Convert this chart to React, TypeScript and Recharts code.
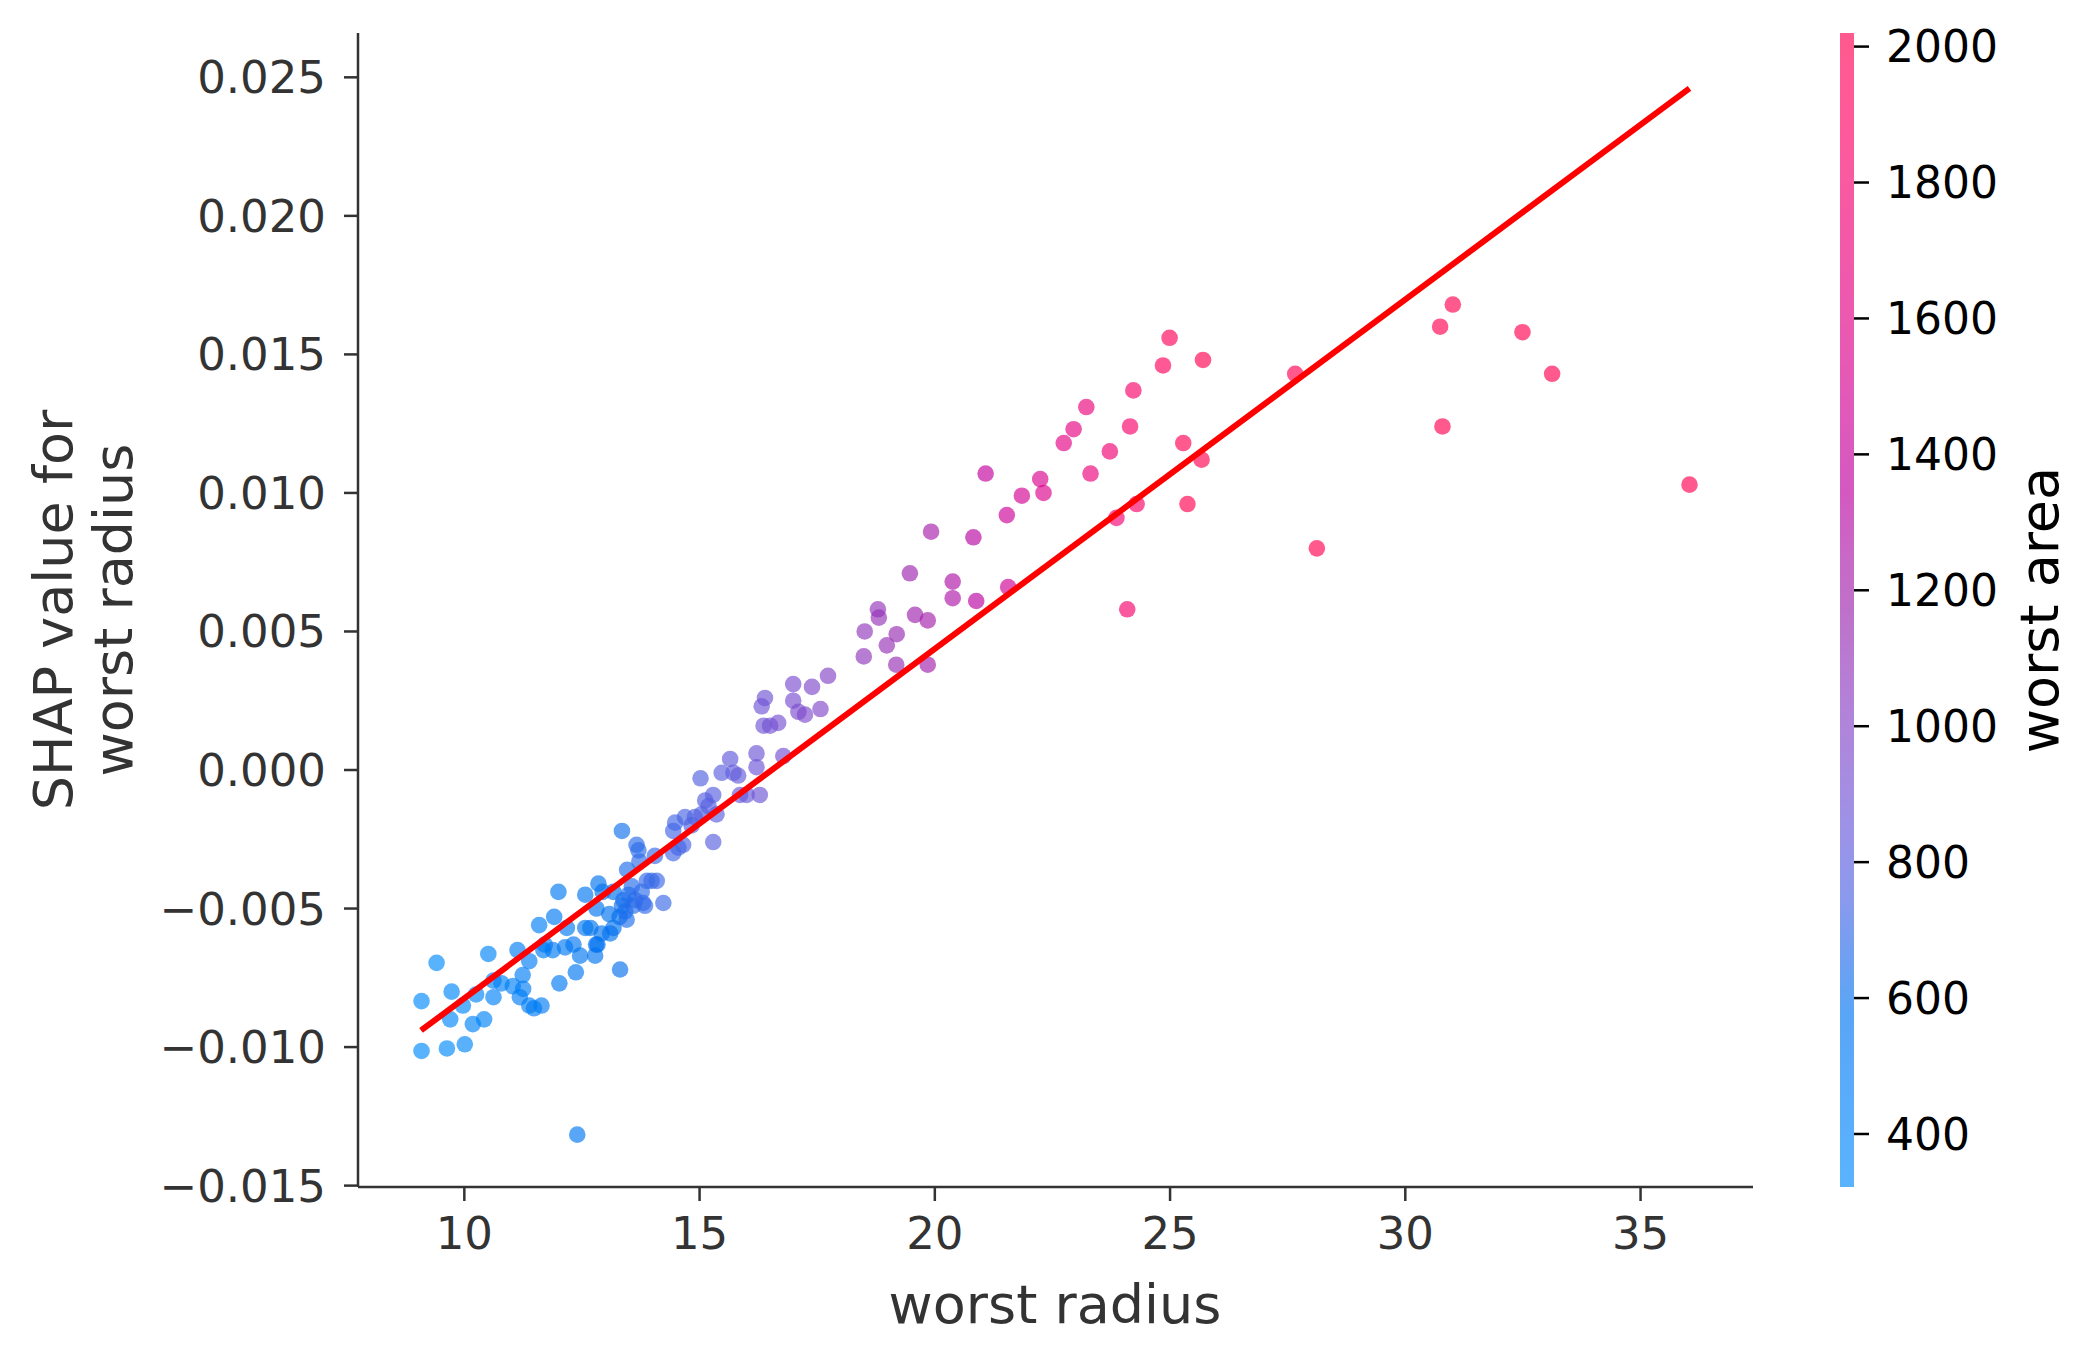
import { ComposedChart, Scatter, XAxis, YAxis, ReferenceArea } from "recharts";

// x: worst radius, y: SHAP value for worst radius, colour: worst area
const worstRadius = [
  9.09, 9.09, 9.41, 9.73, 9.7, 9.63, 9.97, 10.01, 10.18, 10.25, 10.42, 10.51, 10.62, 10.62, 10.79,
  11.03, 11.13, 11.24, 11.25, 11.18, 11.38, 11.38, 11.48, 11.64, 11.59, 11.71, 11.68, 11.91, 11.88,
  12.0, 12.02, 12.14, 12.18, 12.32, 12.37, 12.4, 12.46, 12.57, 12.57, 12.68, 12.78, 12.8, 12.83,
  12.85, 12.81, 12.92, 12.94, 13.08, 13.1, 13.17, 13.17, 13.3, 13.31, 13.35, 13.35, 13.38, 13.42,
  13.45, 13.49, 13.46, 13.56, 13.59, 13.63, 13.66, 13.7, 13.72, 13.77, 13.8, 13.84, 13.88, 13.98,
  14.05, 14.09, 14.23, 14.44, 14.48, 14.44, 14.55, 14.65, 14.69, 14.83, 14.9, 15.04, 15.02, 15.12,
  15.19, 15.29, 15.29, 15.36, 15.65, 15.72, 15.82, 15.86, 15.47, 16.0, 16.21, 16.21, 16.28, 16.32,
  16.39, 16.36, 16.5, 16.67, 16.78, 16.99, 16.99, 17.1, 17.24, 17.39, 17.57, 17.73, 18.49, 18.51,
  18.79, 18.81, 18.98, 19.19, 19.18, 19.47, 19.58, 19.85, 19.85, 19.92, 20.38, 20.38, 20.82, 20.88,
  21.08, 21.56, 21.53, 21.85, 22.24, 22.31, 22.74, 22.95, 23.22, 23.31, 23.72, 23.86, 24.09, 24.15,
  24.22, 24.29, 24.85, 24.99, 25.28, 25.37, 25.67, 25.7, 27.66, 28.12, 30.74, 31.01, 30.79, 32.49,
  33.12, 36.04,
];
const shapValues = [
  -0.00834, -0.01014, -0.00696, -0.008, -0.009, -0.01005, -0.0085, -0.0099, -0.00917, -0.0081,
  -0.009, -0.00664, -0.0082, -0.0076, -0.0077, -0.0078, -0.0065, -0.0074, -0.0079, -0.0082, -0.0069,
  -0.0085, -0.0086, -0.0085, -0.0056, -0.0063, -0.0065, -0.0053, -0.0065, -0.0044, -0.0077, -0.0064,
  -0.0057, -0.0063, -0.0073, -0.01316, -0.0067, -0.0045, -0.0057, -0.0057, -0.0067, -0.0063,
  -0.0063, -0.0041, -0.005, -0.0059, -0.0044, -0.0052, -0.0059, -0.0057, -0.0044, -0.0053, -0.0072,
  -0.0022, -0.0049, -0.0047, -0.0051, -0.0054, -0.0045, -0.0036, -0.0042, -0.0049, -0.0047, -0.0027,
  -0.0029, -0.0033, -0.0044, -0.0048, -0.0049, -0.004, -0.004, -0.0031, -0.004, -0.0048, -0.003,
  -0.0019, -0.0022, -0.0028, -0.0027, -0.0017, -0.002, -0.0017, -0.0016, -0.0003, -0.0011, -0.0013,
  -0.0026, -0.0009, -0.0016, 0.0004, -0.0001, -0.0002, -0.0009, -0.0001, -0.0009, 0.0001, 0.0006,
  -0.0009, 0.0023, 0.0026, 0.0016, 0.0016, 0.0017, 0.0005, 0.0031, 0.0025, 0.0021, 0.002, 0.003,
  0.0022, 0.0034, 0.0041, 0.005, 0.0058, 0.0055, 0.0045, 0.0049, 0.0038, 0.0071, 0.0056, 0.0054,
  0.0038, 0.0086, 0.0068, 0.0062, 0.0084, 0.0061, 0.0107, 0.0066, 0.0092, 0.0099, 0.0105, 0.01,
  0.0118, 0.0123, 0.0131, 0.0107, 0.0115, 0.0091, 0.0058, 0.0124, 0.0137, 0.0096, 0.0146, 0.0156,
  0.0118, 0.0096, 0.0112, 0.0148, 0.0143, 0.008, 0.016, 0.0168, 0.0124, 0.0158, 0.0143, 0.0103,
];
const worstArea = [
  340, 330, 360, 380, 370, 350, 390, 395, 410, 405, 420, 430, 440, 435, 450, 460, 470, 475, 480, 470,
  490, 485, 495, 505, 500, 510, 505, 520, 515, 525, 530, 540, 545, 555, 560, 550, 565, 575, 570, 580,
  590, 590, 595, 600, 595, 600, 605, 615, 615, 620, 625, 630, 635, 640, 640, 645, 645, 650, 650, 655,
  660, 660, 665, 670, 670, 675, 675, 680, 680, 685, 690, 695, 700, 705, 720, 725, 720, 730, 735, 740,
  750, 755, 765, 770, 775, 780, 785, 790, 795, 815, 820, 830, 835, 800, 850, 865, 870, 875, 880, 885,
  880, 895, 910, 915, 935, 930, 945, 955, 970, 985, 1000, 1070, 1075, 1100, 1105, 1120, 1140, 1135,
  1170, 1180, 1210, 1205, 1215, 1270, 1265, 1320, 1330, 1380, 1450, 1440, 1490, 1540, 1550, 1610,
  1640, 1690, 1700, 1760, 1780, 1820, 1830, 1840, 1850, 1940, 1960, 2000, 2010, 2060, 2070, 2400,
  2480, 2940, 3000, 2950, 3300, 3430, 4250,
];

const fitX = [9.08, 36.04];
const fitY = [-0.0094, 0.0246];

const xTicks = [10, 15, 20, 25, 30, 35];
const yTicks = [-0.015, -0.01, -0.005, 0, 0.005, 0.01, 0.015, 0.02, 0.025];
const areaTicks = [400, 600, 800, 1000, 1200, 1400, 1600, 1800, 2000];
const AREA_MIN = 322;
const AREA_MAX = 2020;

const W = 2098;
const H = 1361;
const FONT = "DejaVu Sans, sans-serif";
const DOT_ALPHA = 0.65;

const points = worstRadius.map((x, i) => ({ x, y: shapValues[i], area: worstArea[i] }));
const fitLine = fitX.map((x, i) => ({ x, y: fitY[i] }));

// shap's red_blue map: Lch path from blue to red, lab -> sRGB (D65)
function redBlue(t: number) {
  t = Math.min(1, Math.max(0, t));
  const L = t < 0.5 ? 54 - 28 * t : 40 + 28 * (t - 0.5);
  const C = 70 + 20 * t;
  const h = 4.6588 + t * (0.35470565 + 2 * Math.PI - 4.6588);
  const a = C * Math.cos(h);
  const b = C * Math.sin(h);
  const fy = (L + 16) / 116;
  const fx = fy + a / 500;
  const fz = fy - b / 200;
  const inv = (f: number) => (f > 0.206893 ? f * f * f : (f - 16 / 116) / 7.787);
  const X = 0.95047 * inv(fx);
  const Y = inv(fy);
  const Z = 1.08883 * inv(fz);
  const lin = [
    3.2406 * X - 1.5372 * Y - 0.4986 * Z,
    -0.9689 * X + 1.8758 * Y + 0.0415 * Z,
    0.0557 * X - 0.204 * Y + 1.057 * Z,
  ];
  const rgb = lin.map((v) => {
    v = Math.min(1, Math.max(0, v));
    const g = v > 0.0031308 ? 1.055 * Math.pow(v, 1 / 2.4) - 0.055 : 12.92 * v;
    return Math.round(g * 255);
  });
  return `rgb(${rgb[0]},${rgb[1]},${rgb[2]})`;
}

const areaColor = (a: number) => redBlue((a - AREA_MIN) / (AREA_MAX - AREA_MIN));

const fmtY = (v: number) => (v < 0 ? "\u2212" + Math.abs(v).toFixed(3) : v.toFixed(3));

const Dot = (props: any) => {
  const { cx, cy, payload } = props;
  if (cx == null || cy == null) return <g />;
  return <circle cx={cx} cy={cy} r={8.3} fill={areaColor(payload.area)} fillOpacity={DOT_ALPHA} />;
};

const gradStops = Array.from({ length: 21 }, (_, i) => i / 20);

export default function App() {
  return (
    <div style={{ position: "absolute", left: 0, top: 0, width: W, height: H, background: "#fff" }}>
      <div style={{ position: "absolute", left: 0, top: 0 }}>
        <ComposedChart width={W} height={H} margin={{ top: 33, right: 345, bottom: 74, left: 58 }}>
          <XAxis
            type="number"
            dataKey="x"
            domain={[7.74, 37.39]}
            ticks={xTicks}
            allowDataOverflow
            interval={0}
            height={100}
            tickSize={14}
            tickMargin={16}
            axisLine={{ stroke: "#333", strokeWidth: 2.5 }}
            tickLine={{ stroke: "#333", strokeWidth: 2.5 }}
            tick={{ fontSize: 45, fill: "#333", fontFamily: FONT }}
          />
          <YAxis
            type="number"
            dataKey="y"
            domain={[-0.01505, 0.0266]}
            ticks={yTicks}
            allowDataOverflow
            interval={0}
            width={300}
            tickSize={14}
            tickMargin={18}
            tickFormatter={fmtY}
            axisLine={{ stroke: "#333", strokeWidth: 2.5 }}
            tickLine={{ stroke: "#333", strokeWidth: 2.5 }}
            tick={{ fontSize: 45, fill: "#333", fontFamily: FONT }}
          />
          <Scatter data={points} shape={<Dot />} isAnimationActive={false} />
          <Scatter
            data={fitLine}
            line={{ stroke: "#ff0000", strokeWidth: 6 }}
            shape={() => <g />}
            isAnimationActive={false}
          />
          <text x={1055} y={1323} textAnchor="middle" fontSize={54} fill="#333" fontFamily={FONT}>
            worst radius
          </text>
          <text
            x={72}
            y={610}
            textAnchor="middle"
            fontSize={54}
            fill="#333"
            fontFamily={FONT}
            transform="rotate(-90 72 610)"
          >
            SHAP value for
          </text>
          <text
            x={132}
            y={610}
            textAnchor="middle"
            fontSize={54}
            fill="#333"
            fontFamily={FONT}
            transform="rotate(-90 132 610)"
          >
            worst radius
          </text>
        </ComposedChart>
      </div>
      <div style={{ position: "absolute", left: 0, top: 0, pointerEvents: "none" }}>
        <ComposedChart
          width={W}
          height={H}
          data={[{ x: 0 }, { x: 1 }]}
          margin={{ top: 33, right: 44, bottom: 174, left: 1840 }}
        >
          <defs>
            <linearGradient id="cbGrad" x1="0" y1="1" x2="0" y2="0">
              {gradStops.map((t) => (
                <stop key={t} offset={t} stopColor={redBlue(t)} stopOpacity={DOT_ALPHA} />
              ))}
            </linearGradient>
          </defs>
          <XAxis type="number" dataKey="x" domain={[0, 1]} hide />
          <YAxis
            orientation="right"
            type="number"
            domain={[AREA_MIN, AREA_MAX]}
            ticks={areaTicks}
            allowDataOverflow
            interval={0}
            width={200}
            axisLine={false}
            tickSize={15}
            tickMargin={17}
            tickLine={{ stroke: "#000", strokeWidth: 2.5 }}
            tick={{ fontSize: 44, fill: "#000", fontFamily: FONT }}
          />
          <ReferenceArea
            x1={0}
            x2={1}
            y1={AREA_MIN}
            y2={AREA_MAX}
            fill="url(#cbGrad)"
            fillOpacity={1}
            stroke="none"
            ifOverflow="visible"
          />
          <text
            x={2058}
            y={610}
            textAnchor="middle"
            fontSize={54}
            fill="#000"
            fontFamily={FONT}
            transform="rotate(-90 2058 610)"
          >
            worst area
          </text>
        </ComposedChart>
      </div>
    </div>
  );
}
